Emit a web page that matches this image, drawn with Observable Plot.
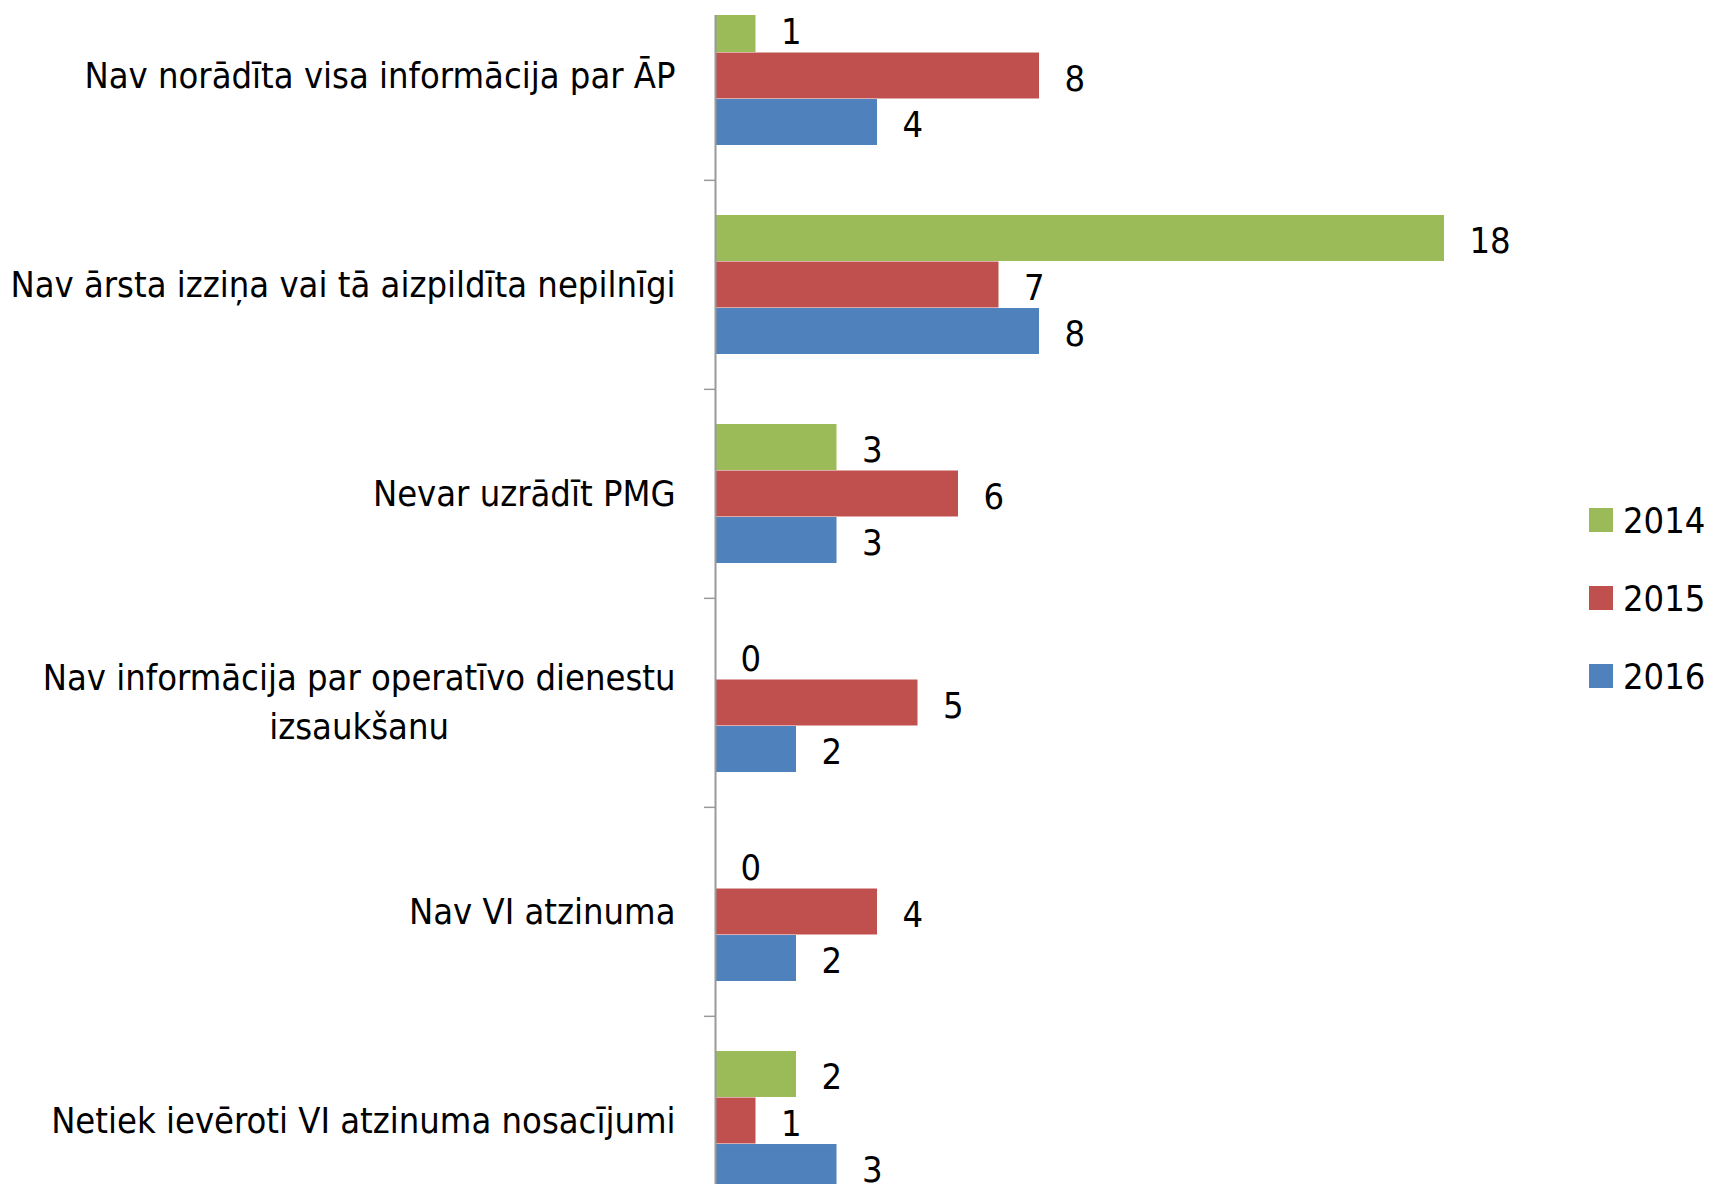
<!DOCTYPE html>
<html>
<head>
<meta charset="utf-8">
<script src="https://cdn.jsdelivr.net/npm/d3@7"></script>
<script src="https://cdn.jsdelivr.net/npm/@observablehq/plot@0.6"></script>
<style>
  html, body { margin: 0; padding: 0; background: #fff; overflow: hidden; }
  #wrap { position: relative; width: 1712px; height: 1184px; }
  #legend { position: absolute; left: 1589px; top: 481px;
    font-family: "DejaVu Sans Condensed", "Liberation Sans Narrow", "DejaVu Sans", sans-serif;
    font-size: 36px; color: #000; }
  #legend .item { display: flex; align-items: center; height: 78px; white-space: nowrap; }
  #legend .sw { width: 24px; height: 24px; margin-right: 10px; flex: none; }
</style>
</head>
<body>
<div id="wrap"><div id="legend"></div></div>
<script>
const categories = [
  "Nav norādīta visa informācija par ĀP",
  "Nav ārsta izziņa vai tā aizpildīta nepilnīgi",
  "Nevar uzrādīt PMG",
  "Nav informācija par operatīvo dienestu izsaukšanu",
  "Nav VI atzinuma",
  "Netiek ievēroti VI atzinuma nosacījumi"
];
const tickLabels = [
  "Nav norādīta visa informācija par ĀP",
  "Nav ārsta izziņa vai tā aizpildīta nepilnīgi",
  "Nevar uzrādīt PMG",
  "Nav informācija par operatīvo dienestu\nizsaukšanu",
  "Nav VI atzinuma",
  "Netiek ievēroti VI atzinuma nosacījumi"
];
const years = ["2014", "2015", "2016"];
const values2014 = [1, 18, 3, 0, 0, 2];
const values2015 = [8, 7, 6, 5, 4, 1];
const values2016 = [4, 8, 3, 2, 2, 3];
const colors = ["#9BBB59", "#C0504D", "#4F81BD"];

const series = [values2014, values2015, values2016];
const rows = [];
years.forEach((yr, i) => categories.forEach((c, j) => rows.push({category: c, year: yr, value: series[i][j]})));

const FONT = '"DejaVu Sans Condensed", "Liberation Sans Narrow", "DejaVu Sans", sans-serif';
const FS = 36;
const yRange = [-64.3, 1261.3];
const pad = 1 / 3;
const step = (yRange[1] - yRange[0]) / (categories.length + pad);
const bw = step * (1 - pad);
const bh = bw / 3;
const axisGray = "#9a9a9a";

const marks = [];
years.forEach((yr, i) => {
  const d = rows.filter(r => r.year === yr);
  marks.push(Plot.barX(d, {x: "value", y: "category", fill: colors[i],
    insetTop: i * bh, insetBottom: (2 - i) * bh, clip: true}));
  marks.push(Plot.text(d, {x: "value", y: "category", text: r => String(r.value),
    textAnchor: "start", dx: 25, dy: (i - 1) * bh + 3, fontSize: FS, fill: "#000"}));
});
marks.push(Plot.ruleX([0], {stroke: axisGray, strokeWidth: 2}));
marks.push(Plot.axisY({tickSize: 11, tickFormat: () => "", dy: -step / 2, stroke: axisGray, strokeWidth: 1.5, label: null}));
marks.push(Plot.axisY({tickSize: 0, tickPadding: 40, fontSize: FS, fill: "#000", lineHeight: 1.36, dy: -4,
  tickFormat: d => tickLabels[categories.indexOf(d)], label: null}));

const chart = Plot.plot({
  width: 1712,
  height: 1184,
  marginLeft: 715,
  marginRight: 187,
  marginTop: 15,
  marginBottom: 0,
  style: {fontFamily: FONT, fontSize: FS + "px", background: "white", overflow: "hidden", color: "#000"},
  x: {domain: [0, 20], axis: null},
  y: {domain: categories, range: yRange, padding: pad},
  marks
});
document.getElementById("wrap").prepend(chart);

// center multi-line category labels within their right-aligned block
chart.querySelectorAll("text").forEach(t => {
  const spans = t.querySelectorAll("tspan");
  if (spans.length > 1) {
    const w = t.getBBox().width;
    t.setAttribute("text-anchor", "middle");
    t.style.textAnchor = "middle";
    t.setAttribute("transform", (t.getAttribute("transform") || "") + ` translate(${-w / 2},0)`);
  }
});

const legend = document.getElementById("legend");
years.forEach((yr, i) => {
  const item = document.createElement("div");
  item.className = "item";
  const sw = document.createElement("div");
  sw.className = "sw";
  sw.style.background = colors[i];
  const tx = document.createElement("span");
  tx.textContent = yr;
  item.append(sw, tx);
  legend.append(item);
});
</script>
</body>
</html>
